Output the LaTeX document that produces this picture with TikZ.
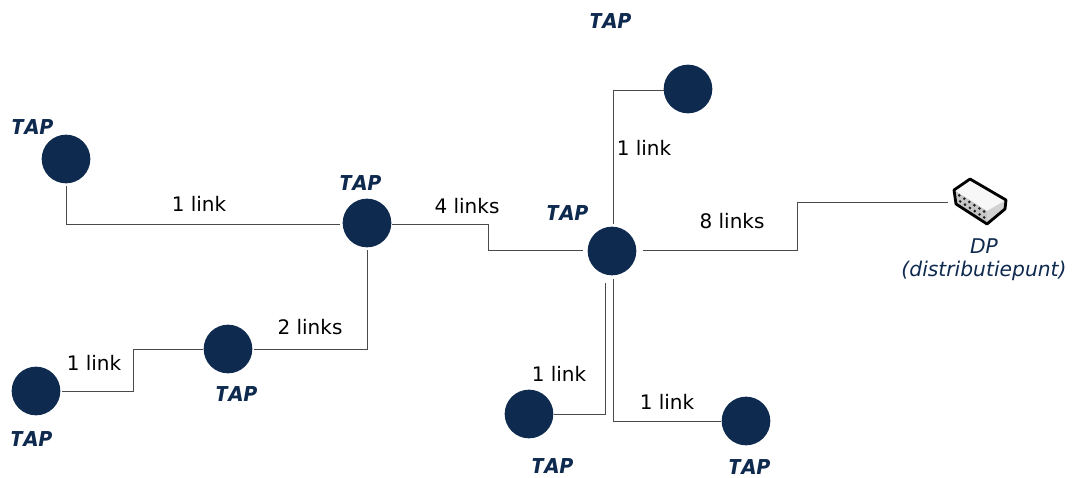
\documentclass[tikz,border=0pt]{standalone}
\usepackage{fontspec}
\usetikzlibrary{calc}
\setmainfont{DejaVu Sans}
\newfontfamily\tapfont{Poppins}
\definecolor{navy}{HTML}{0F2A4F}
\definecolor{wire}{HTML}{4A4A4A}
\tikzset{
  x=0.75pt,y=-0.75pt,
  tapdot/.style={circle,fill=navy,draw=none,minimum size=36.5pt,inner sep=0pt},
  taplabel/.style={font=\tapfont\fontsize{16}{18}\selectfont\bfseries\itshape,text=navy,inner sep=0pt},
  linklabel/.style={font=\fontsize{15}{17}\selectfont,text=black,inner sep=0pt},
  wirepath/.style={draw=wire,line width=0.7pt},
  dplabel/.style={font=\fontsize{15.2}{17.3}\selectfont\itshape,text=navy,inner sep=0pt,align=center},
}
\begin{document}
\begin{tikzpicture}
\useasboundingbox (0,0) rectangle (1074,478);
% nodes
\node[tapdot] (a) at (66,159) {};
\node[tapdot] (b) at (367,223) {};
\node[tapdot] (c) at (612,251) {};
\node[tapdot] (d) at (228,349) {};
\node[tapdot] (e) at (36,391) {};
\node[tapdot] (f) at (688,89) {};
\node[tapdot] (g) at (529,414) {};
\node[tapdot] (h) at (746,421) {};
% connector ends, a small gap from each dot
\coordinate (aS) at (66,186);
\coordinate (bW) at (340,224);
\coordinate (bE) at (392,224);
\coordinate (bS) at (367,250);
\coordinate (cW) at (583,250);
\coordinate (cE) at (643,250);
\coordinate (cN) at (613,224);
\coordinate (cSa) at (605,283);
\coordinate (cSb) at (613,279);
\coordinate (dE) at (254,349);
\coordinate (dW) at (203,349);
\coordinate (eE) at (62,391);
\coordinate (fW) at (664,90);
\coordinate (gE) at (554,414);
\coordinate (hW) at (721,421);
\coordinate (dp) at (948,202);
% DP icon
\fill[white!94!gray] (970,179) -- (1006,200) -- (987,211) -- (954,190) -- cycle;
\fill[gray!35] (987,211) -- (1006,200) -- (1005,209) -- (987,224) -- cycle;
\fill[gray!45] (954,190) -- (987,211) -- (987,224) -- (956,204) -- cycle;
\foreach \t in {0.08,0.26,0.44,0.62,0.8,0.97}{
  \fill[gray!25!black] ($(957,194)!\t!(985,212)$) circle (1.1pt);
  \fill[gray!25!black] ($(958,200)!\t!(985,218)$) circle (1.1pt);
}
\draw[black,line width=2.1pt,line join=round]
  (970,179) -- (1006,200) -- (1005,209) -- (987,224) -- (956,204) -- (954,190) -- cycle;
% connectors
\draw[wirepath] (aS) |- (bW);
\draw[wirepath] (bE) -- (488,224) -- (488,250) -- (cW);
\draw[wirepath] (bS) |- (dE);
\draw[wirepath] (dW) -- (133,349) -- (133,391) -- (eE);
\draw[wirepath] (cN) |- (fW);
\draw[wirepath] (cE) -- (797,250) -- (797,202) -- (dp);
\draw[wirepath] (cSa) |- (gE);
\draw[wirepath] (cSb) |- (hW);
% TAP labels
\node[taplabel] (t1) at (32,127) {TAP};
\node[taplabel] (t2) at (360,183) {TAP};
\node[taplabel] (t3) at (610,21) {TAP};
\node[taplabel] (t4) at (567,213) {TAP};
\node[taplabel] (t5) at (236,394) {TAP};
\node[taplabel] (t6) at (31,439) {TAP};
\node[taplabel] (t7) at (552,466) {TAP};
\node[taplabel] (t8) at (749,467) {TAP};
% link labels
\node[linklabel] (l1) at (199,204) {1 link};
\node[linklabel] (l2) at (467,206) {4 links};
\node[linklabel] (l3) at (310,327) {2 links};
\node[linklabel] (l4) at (94,363) {1 link};
\node[linklabel] (l5) at (644,148) {1 link};
\node[linklabel] (l6) at (732,221) {8 links};
\node[linklabel] (l7) at (559,374) {1 link};
\node[linklabel] (l8) at (667,402) {1 link};
\node[dplabel] (dpl) at (984,260) {DP\\(distributiepunt)};
\end{tikzpicture}
\end{document}
